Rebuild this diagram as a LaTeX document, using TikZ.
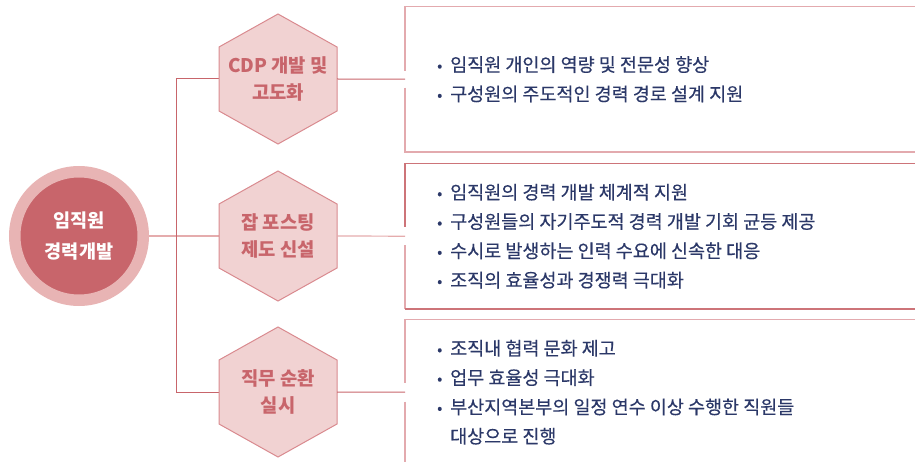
\documentclass[tikz,border=0pt]{standalone}
\usepackage{fontspec}
\setmainfont{Noto Sans CJK KR}
\newfontfamily\bodyfont[FakeBold=0.35]{Noto Sans CJK KR}
\usetikzlibrary{backgrounds}
\definecolor{ringc}{HTML}{E8B4B4}
\definecolor{corec}{HTML}{C8656B}
\definecolor{hexfill}{HTML}{F1D2D2}
\definecolor{hexdraw}{HTML}{D98A8F}
\definecolor{hextext}{HTML}{C8656B}
\definecolor{linec}{HTML}{C8656B}
\definecolor{boxlight}{HTML}{E3AAAE}
\definecolor{boxdark}{HTML}{CD7479}
\definecolor{navy}{HTML}{2B3868}
\tikzset{
  hexshape/.style={fill=hexfill, draw=hexdraw, line width=1pt},
  hexnode/.style={rectangle, minimum width=118pt, minimum height=130pt, inner sep=0pt,
    align=center, text=hextext, font=\fontsize{18.8}{27}\selectfont\bfseries},
  corenode/.style={circle, fill=corec, draw=ringc, line width=11.5pt, minimum size=128.5pt,
    inner sep=0pt, align=center, text=white, font=\fontsize{18.6}{31}\selectfont\bfseries},
  conn/.style={draw=linec, line width=1pt},
  connlight/.style={draw=ringc!90!corec, line width=1.2pt},
  boxnode/.style={rectangle, minimum width=510pt, minimum height=145pt, inner sep=0pt, anchor=north west},
  boxline/.style={line width=1.4pt},
  textnode/.style={anchor=west, inner sep=0pt, align=left, text=navy,
    font=\bodyfont\fontsize{18.5}{29.3}\selectfont},
}
\newcommand\hexat[4]{%
  \filldraw[hexshape] (#2,#3-65) -- (#2+59,#3-32) -- (#2+59,#3+32) -- (#2,#3+65)
    -- (#2-59,#3+32) -- (#2-59,#3-32) -- cycle;
  \node[hexnode] (#1) at (#2,#3) {#4};}
\newcommand\bul{\makebox[13pt][l]{\raisebox{0.5pt}{\fontsize{15}{15}\selectfont•}}}
\begin{document}
\begin{tikzpicture}[x=1pt, y=-1pt]
\useasboundingbox (0,0) rectangle (915,462);

% central circle
\node[corenode] (core) at (79,236) {임직원\\경력개발};

% hexagons
\hexat{h1}{278}{79}{CDP 개발 및\\고도화}
\hexat{h2}{278}{236}{잡 포스팅\\제도 신설}
\hexat{h3}{278}{392}{직무 순환\\실시}

% boxes (invisible nodes, borders drawn from anchors)
\node[boxnode] (b1) at (405,6.5) {};
\node[boxnode] (b2) at (405,163.5) {};
\node[boxnode] (b3) at (405,319.5) {};

\draw[boxline, draw=boxlight] (b1.north east) -- (b1.north west) -- ([yshift=8.5pt]b1.west);
\draw[boxline, draw=boxlight] ([yshift=-8.5pt]b1.west) -- (b1.south west) -- (b1.south east);
\draw[boxline, draw=boxdark] (b2.north east) -- (b2.north west) -- ([yshift=9pt]b2.west);
\draw[boxline, draw=boxlight] ([yshift=-9pt]b2.west) -- (b2.south west);
\draw[boxline, draw=boxdark] (b2.south west) -- (b2.south east);
\draw[boxline, draw=boxlight] (b3.north east) -- (b3.north west) -- ([yshift=9.5pt]b3.west);
\draw[boxline, draw=boxlight] ([yshift=-9.5pt]b3.west) -- (b3.south west);

% box texts
\node[textnode] (t1) at ([xshift=32pt]b1.west) {\bul 임직원 개인의 역량 및 전문성 향상\\\bul 구성원의 주도적인 경력 경로 설계 지원};
\node[textnode] (t2) at ([xshift=32pt]b2.west) {\bul 임직원의 경력 개발 체계적 지원\\\bul 구성원들의 자기주도적 경력 개발 기회 균등 제공\\\bul 수시로 발생하는 인력 수요에 신속한 대응\\\bul 조직의 효율성과 경쟁력 극대화};
\node[textnode] (t3) at ([xshift=32pt]b3.west) {\bul 조직내 협력 문화 제고\\\bul 업무 효율성 극대화\\\bul 부산지역본부의 일정 연수 이상 수행한 직원들\\\hspace*{13pt}대상으로 진행};

% connectors
\begin{scope}[on background layer]
  \draw[connlight] (core.east) -- (h2.west);
  \coordinate (j1) at ([xshift=-42pt]h1.west);
  \coordinate (j3) at ([xshift=-42pt]h3.west);
  \draw[conn] (h1.west) -- (j1) -- (j3) -- (h3.west);
\end{scope}
\draw[conn] (h1.east) -- (b1.west);
\draw[connlight] (h2.east) -- (b2.west);
\draw[conn] (h3.east) -- (b3.west);
\end{tikzpicture}
\end{document}
